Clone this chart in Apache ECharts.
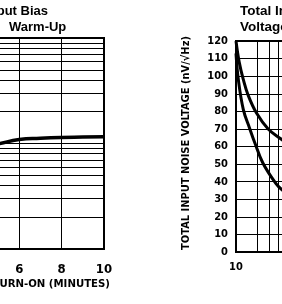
<!DOCTYPE html>
<html>
<head>
<meta charset="utf-8">
<script src="https://cdn.jsdelivr.net/npm/echarts@6/dist/echarts.min.js"></script>
<style>
  html, body { margin: 0; padding: 0; background: #fff; }
  #main { width: 282px; height: 304px; }
</style>
</head>
<body>
<div id="main"></div>
<script>
// left chart: input bias vs warm-up (log y)
const warmupMinutes = [0, 1, 2, 3, 4, 5, 6, 7, 8, 9, 10];
const biasCurrent = [3.0, 5.0, 6.8, 8.2, 9.1, 9.9, 10.9, 11.2, 11.4, 11.5, 11.6];
const biasMinorLines = [2, 3, 4, 5, 6, 7, 8, 9, 20, 30, 40, 50, 60, 70, 80, 90];

// right chart: total input noise voltage (log x)
const outerFreq = [10, 11.1, 12.7, 14.9, 19.5, 28.5, 44.4, 70, 100];
const outerNoise = [120, 108, 98, 89, 79, 70, 64, 58, 54];
const innerFreq = [10, 10.8, 12.7, 15.7, 18.5, 24, 36.6, 44.4, 70, 100];
const innerNoise = [113, 98, 81, 70, 62, 50.6, 39, 35.5, 30, 27];
const noiseMinorLines = [20, 30, 40, 50, 60, 70, 80, 90, 200, 300, 400, 500, 600, 700, 800, 900];

const labelFont = '"Liberation Sans Narrow", "DejaVu Sans Condensed", "Arial Narrow", sans-serif';
const titleFont = '"Liberation Sans", Arial, sans-serif';

function pairs(xs, ys) {
    return xs.map((x, i) => [x, ys[i]]);
}

function minorLines(vals, key) {
    return {
        silent: true,
        symbol: 'none',
        label: { show: false },
        emphasis: { disabled: true },
        lineStyle: { color: '#000', width: 1, type: 'solid' },
        data: vals.map(v => ({ [key]: v }))
    };
}

let chart = echarts.init(document.getElementById('main'));
let option = {
    animation: false,
    grid: [
        { left: -108, right: 178, top: 38, bottom: 55, outerBoundsMode: 'none', containLabel: false, show: true, borderColor: '#000', borderWidth: 2 },
        { left: 236, right: -166, top: 41, bottom: 52, outerBoundsMode: 'none', containLabel: false, show: true, borderColor: '#000', borderWidth: 2 }
    ],
    xAxis: [
        {
            gridIndex: 0, type: 'value', min: 0, max: 10, interval: 2,
            axisLine: { lineStyle: { color: '#000', width: 2 } },
            axisTick: { show: false },
            splitLine: { lineStyle: { color: '#000', width: 1 } },
            axisLabel: { color: '#000', fontFamily: labelFont, fontWeight: 'bold', fontSize: 13, margin: 14 }
        },
        {
            gridIndex: 1, type: 'log', logBase: 10, min: 10, max: 10000,
            axisLine: { lineStyle: { color: '#000', width: 2 } },
            axisTick: { show: false },
            splitLine: { lineStyle: { color: '#000', width: 1 } },
            axisLabel: { color: '#000', fontFamily: labelFont, fontWeight: 'bold', fontSize: 11, margin: 10, formatter: v => String(v) }
        }
    ],
    yAxis: [
        {
            gridIndex: 0, type: 'log', logBase: 10, min: 1, max: 100,
            axisLine: { show: false },
            axisTick: { show: false },
            axisLabel: { show: false },
            splitLine: { lineStyle: { color: '#000', width: 1 } }
        },
        {
            gridIndex: 1, type: 'value', min: 0, max: 120, interval: 10,
            axisLine: { show: true, lineStyle: { color: '#000', width: 2 } },
            axisTick: { show: false },
            splitLine: { lineStyle: { color: '#000', width: 1 } },
            axisLabel: { color: '#000', fontFamily: labelFont, fontWeight: 'bold', fontSize: 11, margin: 8 }
        }
    ],
    graphic: [
        { type: 'text', x: 48, y: 11, style: { text: 'Input Bias', align: 'right', verticalAlign: 'middle', font: 'bold 13px ' + titleFont, fill: '#000' } },
        { type: 'text', x: 9, y: 27, style: { text: 'Warm-Up', align: 'left', verticalAlign: 'middle', font: 'bold 13px ' + titleFont, fill: '#000' } },
        { type: 'text', x: 240, y: 11, style: { text: 'Total Input Noise', align: 'left', verticalAlign: 'middle', font: 'bold 13.5px ' + titleFont, fill: '#000' } },
        { type: 'text', x: 240, y: 27, style: { text: 'Voltage vs. Frequency', align: 'left', verticalAlign: 'middle', font: 'bold 13.5px ' + titleFont, fill: '#000' } },
        { type: 'text', x: 110, y: 284, style: { text: 'TIME AFTER TURN-ON (MINUTES)', align: 'right', verticalAlign: 'middle', font: 'bold 11.3px ' + labelFont, fill: '#000' } },
        { type: 'text', x: 186, y: 143, rotation: Math.PI / 2, style: { text: 'TOTAL INPUT NOISE VOLTAGE (nV/\u221AHz)', align: 'center', verticalAlign: 'middle', font: 'bold 11px ' + labelFont, fill: '#000' } }
    ],
    series: [
        {
            type: 'line', xAxisIndex: 0, yAxisIndex: 0, smooth: true, symbol: 'none',
            lineStyle: { color: '#000', width: 3.5 },
            data: pairs(warmupMinutes, biasCurrent),
            markLine: minorLines(biasMinorLines, 'yAxis')
        },
        {
            type: 'line', xAxisIndex: 1, yAxisIndex: 1, smooth: 0.4, symbol: 'none',
            lineStyle: { color: '#000', width: 3 },
            data: pairs(outerFreq, outerNoise),
            markLine: minorLines(noiseMinorLines, 'xAxis')
        },
        {
            type: 'line', xAxisIndex: 1, yAxisIndex: 1, smooth: 0.4, symbol: 'none',
            lineStyle: { color: '#000', width: 3 },
            data: pairs(innerFreq, innerNoise)
        }
    ]
};
chart.setOption(option, true);
</script>
</body>
</html>
